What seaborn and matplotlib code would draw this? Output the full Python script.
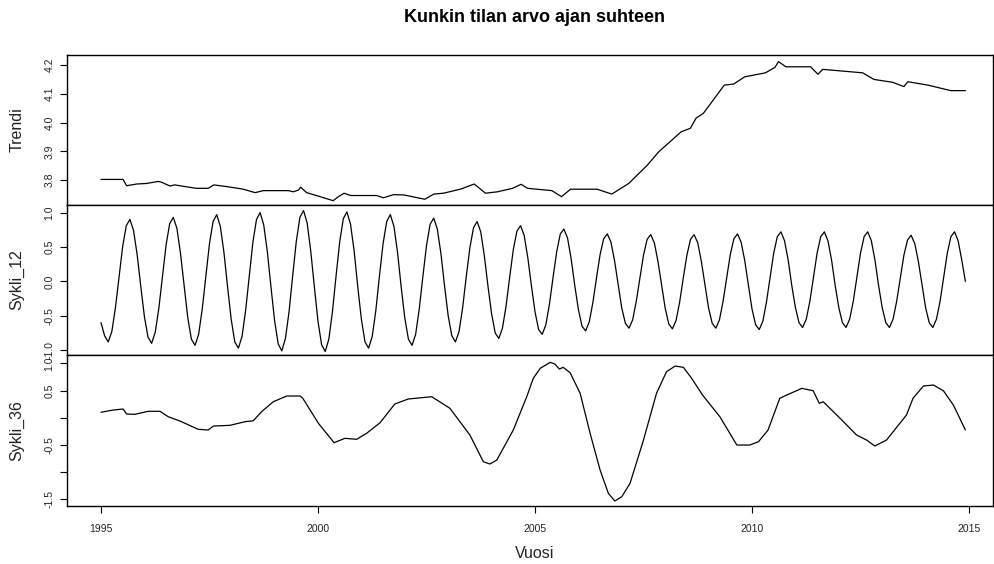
import numpy as np
import pandas as pd
import matplotlib
matplotlib.use("Agg")
import matplotlib.pyplot as plt
import seaborn as sns

# ---------------- data ----------------
title = "Kunkin tilan arvo ajan suhteen"
xlabel = "Vuosi"
panel_labels = ["Trendi", "Sykli_12", "Sykli_36"]
year_ticks = [1995, 2000, 2005, 2010, 2015]

trendi_time = [1995.00, 1995.51, 1995.59, 1995.82, 1996.05, 1996.32, 1996.40, 1996.59, 1996.70,
               1996.90, 1997.20, 1997.47, 1997.60, 1997.90, 1998.28, 1998.55, 1998.74, 1999.32,
               1999.43, 1999.55, 1999.60, 1999.74, 2000.05, 2000.35, 2000.47, 2000.60, 2000.75,
               2001.35, 2001.51, 2001.74, 2001.98, 2002.46, 2002.67, 2002.89, 2003.28, 2003.60,
               2003.86, 2004.14, 2004.48, 2004.68, 2004.83, 2005.39, 2005.61, 2005.82, 2006.43,
               2006.77, 2007.16, 2007.59, 2007.85, 2008.37, 2008.58, 2008.71, 2008.88, 2009.36,
               2009.58, 2009.83, 2010.31, 2010.53, 2010.61, 2010.78, 2011.35, 2011.52, 2011.63,
               2012.55, 2012.81, 2013.24, 2013.50, 2013.59, 2014.06, 2014.58, 2014.917]
trendi_value = [3.802, 3.802, 3.780, 3.786, 3.788, 3.795, 3.792, 3.779, 3.783,
                3.778, 3.771, 3.771, 3.783, 3.777, 3.768, 3.756, 3.763, 3.763,
                3.759, 3.765, 3.775, 3.756, 3.742, 3.728, 3.742, 3.754, 3.746,
                3.746, 3.738, 3.749, 3.748, 3.733, 3.751, 3.754, 3.768, 3.786,
                3.754, 3.759, 3.771, 3.785, 3.771, 3.763, 3.742, 3.768, 3.768,
                3.751, 3.788, 3.852, 3.898, 3.968, 3.980, 4.015, 4.032, 4.130,
                4.134, 4.159, 4.173, 4.192, 4.212, 4.194, 4.194, 4.168, 4.185,
                4.173, 4.150, 4.140, 4.125, 4.142, 4.130, 4.111, 4.111]

sykli12_start = 1995.0
sykli12_value = [
    -0.60, -0.79, -0.88, -0.73, -0.38, 0.07, 0.51, 0.81, 0.90, 0.74, 0.39, -0.07,   # 1995
    -0.51, -0.81, -0.90, -0.74, -0.39, 0.07, 0.53, 0.84, 0.93, 0.77, 0.40, -0.07,   # 1996
    -0.53, -0.84, -0.93, -0.77, -0.40, 0.08, 0.55, 0.87, 0.97, 0.80, 0.42, -0.08,   # 1997
    -0.55, -0.88, -0.97, -0.80, -0.42, 0.08, 0.57, 0.90, 1.00, 0.82, 0.43, -0.08,   # 1998
    -0.57, -0.91, -1.01, -0.83, -0.44, 0.08, 0.58, 0.93, 1.03, 0.85, 0.44, -0.08,   # 1999
    -0.58, -0.92, -1.02, -0.84, -0.44, 0.08, 0.57, 0.91, 1.01, 0.83, 0.44, -0.08,   # 2000
    -0.55, -0.88, -0.97, -0.80, -0.42, 0.08, 0.55, 0.87, 0.97, 0.80, 0.42, -0.08,   # 2001
    -0.53, -0.84, -0.93, -0.77, -0.40, 0.07, 0.52, 0.83, 0.92, 0.76, 0.40, -0.07,   # 2002
    -0.50, -0.79, -0.88, -0.73, -0.38, 0.07, 0.49, 0.78, 0.87, 0.72, 0.37, -0.07,   # 2003
    -0.47, -0.75, -0.83, -0.68, -0.36, 0.06, 0.46, 0.73, 0.81, 0.67, 0.35, -0.06,   # 2004
    -0.44, -0.70, -0.77, -0.63, -0.33, 0.06, 0.43, 0.69, 0.76, 0.63, 0.33, -0.06,   # 2005
    -0.41, -0.65, -0.72, -0.59, -0.31, 0.05, 0.39, 0.62, 0.69, 0.57, 0.30, -0.05,   # 2006
    -0.39, -0.61, -0.68, -0.56, -0.29, 0.05, 0.38, 0.61, 0.68, 0.56, 0.29, -0.05,   # 2007
    -0.39, -0.62, -0.69, -0.57, -0.30, 0.05, 0.38, 0.61, 0.68, 0.56, 0.29, -0.05,   # 2008
    -0.39, -0.61, -0.68, -0.56, -0.29, 0.05, 0.39, 0.62, 0.69, 0.57, 0.30, -0.05,   # 2009
    -0.40, -0.63, -0.70, -0.58, -0.30, 0.06, 0.41, 0.65, 0.72, 0.59, 0.31, -0.06,   # 2010
    -0.38, -0.60, -0.67, -0.55, -0.29, 0.06, 0.41, 0.65, 0.72, 0.59, 0.31, -0.06,   # 2011
    -0.38, -0.60, -0.67, -0.55, -0.29, 0.06, 0.41, 0.65, 0.72, 0.59, 0.31, -0.06,   # 2012
    -0.38, -0.60, -0.67, -0.55, -0.29, 0.05, 0.38, 0.60, 0.67, 0.55, 0.29, -0.05,   # 2013
    -0.38, -0.60, -0.67, -0.55, -0.29, 0.06, 0.41, 0.65, 0.72, 0.59, 0.31, 0.00,    # 2014
]

sykli36_time = [1995.00, 1995.28, 1995.51, 1995.59, 1995.78, 1996.09, 1996.36, 1996.55, 1996.82,
                1997.24, 1997.47, 1997.59, 1997.97, 1998.32, 1998.51, 1998.70, 1998.97, 1999.28,
                1999.59, 1999.65, 2000.01, 2000.37, 2000.62, 2000.89, 2001.12, 2001.43, 2001.77,
                2002.08, 2002.62, 2003.04, 2003.50, 2003.81, 2003.96, 2004.12, 2004.50, 2004.81,
                2004.96, 2005.12, 2005.35, 2005.46, 2005.56, 2005.65, 2005.81, 2006.04, 2006.27,
                2006.50, 2006.69, 2006.84, 2007.00, 2007.19, 2007.50, 2007.80, 2008.03, 2008.23,
                2008.42, 2008.61, 2008.86, 2009.26, 2009.49, 2009.65, 2009.95, 2010.15, 2010.37,
                2010.64, 2010.80, 2011.15, 2011.41, 2011.55, 2011.64, 2012.03, 2012.41, 2012.64,
                2012.83, 2013.10, 2013.56, 2013.71, 2013.95, 2014.18, 2014.41, 2014.64, 2014.917]
sykli36_value = [0.100, 0.141, 0.160, 0.068, 0.062, 0.118, 0.118, 0.018, -0.061,
                 -0.213, -0.226, -0.153, -0.140, -0.073, -0.055, 0.110, 0.294, 0.399,
                 0.399, 0.357, -0.103, -0.459, -0.379, -0.397, -0.287, -0.092, 0.252,
                 0.344, 0.386, 0.173, -0.318, -0.809, -0.851, -0.778, -0.226, 0.386,
                 0.724, 0.908, 1.018, 0.987, 0.895, 0.926, 0.827, 0.449, -0.287,
                 -0.961, -1.390, -1.531, -1.452, -1.206, -0.410, 0.449, 0.846, 0.950,
                 0.926, 0.724, 0.417, 0.018, -0.287, -0.502, -0.502, -0.441, -0.226,
                 0.357, 0.417, 0.540, 0.496, 0.265, 0.294, -0.011, -0.318, -0.410,
                 -0.520, -0.410, 0.050, 0.357, 0.583, 0.601, 0.496, 0.233, -0.226]

trendi_ticks = [3.8, 3.9, 4.0, 4.1, 4.2]
trendi_ticklabels = ["3.8", "3.9", "4.0", "4.1", "4.2"]
sykli12_ticks = [-1.0, -0.5, 0.0, 0.5, 1.0]
sykli12_ticklabels = ["-1.0", "-0.5", "0.0", "0.5", "1.0"]
sykli36_ticks = [-1.5, -1.0, -0.5, 0.0, 0.5, 1.0]
sykli36_ticklabels = ["-1.5", "", "-0.5", "", "0.5", "1.0"]

# ---------------- plotting ----------------
sns.set_style("ticks")
plt.rcParams['font.family'] = ['Liberation Sans', 'DejaVu Sans']
plt.rcParams['text.color'] = 'black'
plt.rcParams['xtick.color'] = 'black'
plt.rcParams['ytick.color'] = 'black'
plt.rcParams['xtick.labelcolor'] = '#222222'
plt.rcParams['ytick.labelcolor'] = '#222222'

W, H = 995, 564
fig = plt.figure(figsize=(W / 100, H / 100), dpi=100)

left_px, right_px = 67, 993
panels_px = [(55, 205), (205, 355), (355, 506)]
xlim = (1994.217, 2015.553)

sykli12_time = sykli12_start + np.arange(len(sykli12_value)) / 12.0

series = [
    (pd.DataFrame({"t": trendi_time, "v": trendi_value}), (3.713, 4.235), trendi_ticks, trendi_ticklabels),
    (pd.DataFrame({"t": sykli12_time, "v": sykli12_value}), (-1.07, 1.11), sykli12_ticks, sykli12_ticklabels),
    (pd.DataFrame({"t": sykli36_time, "v": sykli36_value}), (-1.623, 1.153), sykli36_ticks, sykli36_ticklabels),
]

axes = []
for i, ((df, ylim, yt, ytl), (top, bot)) in enumerate(zip(series, panels_px)):
    ax = fig.add_axes([left_px / W, 1 - bot / H, (right_px - left_px) / W, (bot - top) / H])
    sns.lineplot(data=df, x="t", y="v", ax=ax, color="black", linewidth=0.9,
                 estimator=None, sort=False)
    ax.set_xlim(*xlim)
    ax.set_ylim(*ylim)
    ax.set_yticks(yt)
    ax.set_yticklabels(ytl)
    ax.set_xlabel("")
    ax.set_ylabel("")
    for s in ax.spines.values():
        s.set_visible(True)
        s.set_color("black")
        s.set_linewidth(1.0)
    ax.tick_params(axis="y", length=5, width=0.8, pad=4, labelsize=7.5, color="black")
    for lab in ax.get_yticklabels():
        lab.set_rotation(90)
        lab.set_va("center")
    if i < 2:
        ax.tick_params(axis="x", bottom=False, labelbottom=False)
    else:
        ax.set_xticks(year_ticks)
        ax.set_xticklabels([str(y) for y in year_ticks])
        ax.tick_params(axis="x", length=5, width=0.8, pad=8, labelsize=7.5, color="black")
    fig.text(17 / W, 1 - ((top + bot) / 2) / H, panel_labels[i], rotation=90,
             ha="center", va="center", fontsize=11.5, color="#222222")
    axes.append(ax)

fig.text(535 / W, 1 - 18 / H, title, ha="center", va="center", fontsize=13,
         fontweight="bold", color="black")
fig.text(535 / W, 1 - 553 / H, xlabel, ha="center", va="center", fontsize=11.5, color="#222222")

fig.savefig("out.png", dpi=100, facecolor="white")
